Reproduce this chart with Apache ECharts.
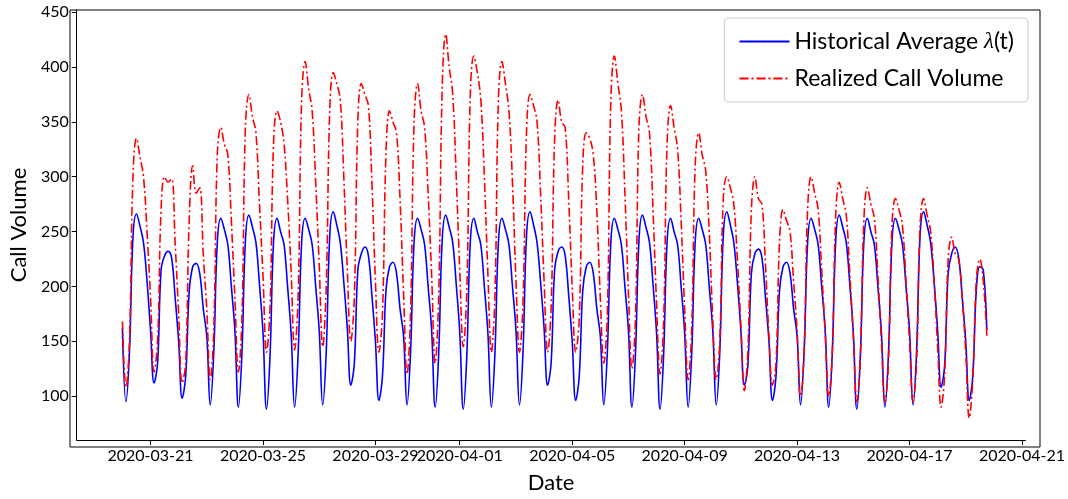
<!DOCTYPE html>
<html>
<head>
<meta charset="utf-8">
<script src="https://cdn.jsdelivr.net/npm/echarts@6/dist/echarts.min.js"></script>
<style>
  html, body { margin: 0; padding: 0; background: #fff; }
  #main { width: 1068px; height: 499px; }
</style>
</head>
<body>
<div id="main"></div>
<script>
// samples every 3 hours starting 2020-03-20 00:00
const startTime = Date.UTC(2020, 2, 20, 0);
const stepHours = 3;

const historical = [
  162,95,140,245,266,255,240,205,
  160,112,130,215,228,232,226,190,
  150,98,118,195,218,221,212,180,
  155,92,140,240,262,252,238,200,
  160,90,138,242,265,254,240,202,
  158,88,136,240,262,250,238,200,
  158,90,138,240,262,252,238,200,
  160,92,140,246,268,256,240,204,
  162,110,130,215,230,236,228,192,
  150,96,118,196,218,222,212,180,
  155,92,140,240,262,252,238,200,
  160,90,138,242,265,254,240,202,
  158,88,136,240,262,250,238,200,
  158,90,138,240,262,252,238,200,
  160,92,140,246,268,256,240,204,
  162,110,130,215,232,236,228,192,
  150,96,118,196,218,222,212,180,
  155,92,140,240,262,252,238,200,
  160,90,138,242,265,254,240,202,
  158,88,136,240,262,250,238,200,
  158,90,138,240,262,252,238,200,
  160,92,140,246,268,256,240,204,
  160,110,128,212,230,234,226,190,
  150,96,118,196,218,222,212,180,
  155,92,140,240,262,252,238,200,
  160,90,138,242,265,254,240,202,
  158,88,136,240,262,250,238,200,
  158,90,138,240,262,252,238,200,
  160,92,140,246,268,256,240,204,
  160,108,128,212,230,236,226,190,
  150,96,118,196,218,215,160
];

const realized = [
  168,108,150,300,335,318,300,250,
  190,122,150,270,300,295,298,240,
  175,112,130,260,310,285,290,230,
  180,115,160,320,345,330,320,260,
  190,122,170,345,375,355,340,275,
  210,140,180,330,360,350,330,280,
  215,142,190,370,405,380,360,295,
  220,145,200,360,395,385,370,300,
  215,150,190,350,385,375,365,295,
  205,140,175,320,360,350,340,280,
  195,120,175,350,385,360,345,285,
  210,130,190,380,430,400,375,300,
  215,145,195,375,410,395,370,300,
  212,140,190,370,405,385,360,295,
  205,140,185,340,375,365,350,285,
  205,140,180,335,370,350,345,280,
  200,140,170,310,340,335,320,270,
  190,130,175,370,410,385,360,285,
  195,125,170,345,375,355,340,270,
  185,120,165,330,365,345,325,260,
  180,115,160,310,340,320,305,250,
  170,115,150,280,300,290,275,225,
  165,105,140,270,300,280,275,220,
  155,110,130,240,270,260,250,205,
  160,100,140,270,300,285,270,215,
  158,100,138,265,295,280,265,212,
  155,95,135,260,290,275,262,210,
  150,95,130,255,280,270,255,205,
  150,95,130,255,280,265,250,205,
  145,90,120,225,245,230,225,190,
  140,80,115,205,225,205,155
];

const tickDates = ['2020-03-21','2020-03-25','2020-03-29','2020-04-01','2020-04-05',
                   '2020-04-09','2020-04-13','2020-04-17','2020-04-21'];
const yTicks = [100, 150, 200, 250, 300, 350, 400, 450];

const toMs = s => Date.parse(s + 'T00:00:00Z');
const timeAt = i => startTime + i * stepHours * 3600 * 1000;
const fmt = ms => new Date(ms).toISOString().slice(0, 10);

const font = 'Lato, "DejaVu Sans", sans-serif';
const chart = echarts.init(document.getElementById('main'));
chart.setOption({
  animation: false,
  grid: { left: 70, right: 28, top: 10, bottom: 52 },
  legend: {
    top: 18, right: 40,
    orient: 'vertical',
    itemWidth: 50, itemHeight: 2, itemGap: 14,
    padding: [12, 14, 12, 14],
    borderColor: '#ccc', borderWidth: 1, borderRadius: 4,
    backgroundColor: '#fff',
    textStyle: { fontFamily: font, fontSize: 23, color: '#000',
      rich: { it: { fontFamily: 'serif', fontStyle: 'italic', fontSize: 23 } } },
    formatter: n => n === 'Historical Average' ? 'Historical Average {it|λ}(t)' : n,
    data: ['Historical Average', 'Realized Call Volume']
  },
  xAxis: {
    type: 'value',
    min: toMs('2020-03-18') + 9 * 3600 * 1000,
    max: toMs('2020-04-21') + 3 * 3600 * 1000,
    name: 'Date', nameLocation: 'middle', nameGap: 32,
    nameTextStyle: { fontFamily: font, fontSize: 22, color: '#000' },
    splitLine: { show: false },
    axisLine: { onZero: false, lineStyle: { color: '#000' } },
    axisTick: { customValues: tickDates.map(toMs), length: 5, lineStyle: { color: '#000' } },
    axisLabel: { customValues: tickDates.map(toMs), formatter: v => fmt(v),
      fontFamily: font, fontSize: 16, color: '#000' }
  },
  yAxis: {
    type: 'value', min: 60, max: 452,
    name: 'Call Volume', nameLocation: 'middle', nameGap: 42,
    nameTextStyle: { fontFamily: font, fontSize: 22, color: '#000' },
    splitLine: { show: false },
    axisLine: { show: true, lineStyle: { color: '#000' } },
    axisTick: { show: true, customValues: yTicks, length: 5, lineStyle: { color: '#000' } },
    axisLabel: { customValues: yTicks, fontFamily: font, fontSize: 16, color: '#000' }
  },
  series: [
    { name: 'Historical Average', type: 'line', symbol: 'none', smooth: 0.4,
      data: historical.map((v, i) => [timeAt(i), v]),
      lineStyle: { color: '#0000ff', width: 1.6 }, itemStyle: { color: '#0000ff' } },
    { name: 'Realized Call Volume', type: 'line', symbol: 'none', smooth: 0.4,
      data: realized.map((v, i) => [timeAt(i), v]),
      lineStyle: { color: '#ff0000', width: 1.6, type: [9, 3, 2, 3] }, itemStyle: { color: '#ff0000' } }
  ],
  graphic: [{ type: 'rect', shape: { x: 70, y: 10, width: 970, height: 437 },
    style: { fill: 'none', stroke: '#000', lineWidth: 1 }, silent: true, z: 100 }]
});
</script>
</body>
</html>
